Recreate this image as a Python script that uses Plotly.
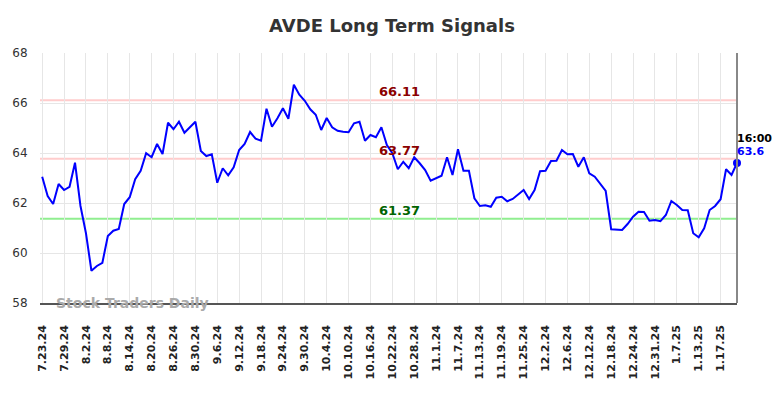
import pandas as pd
import plotly.graph_objects as go

# ---- data ----
holidays = ["2024-09-02", "2024-11-28", "2024-12-25", "2025-01-01", "2025-01-20"]
dates = [d.strftime("%-m.%-d.%y") for d in pd.bdate_range("2024-07-23", "2025-01-23")
         if d.strftime("%Y-%m-%d") not in holidays]

values = [
    63.05, 62.28, 61.96, 62.76, 62.52, 62.65, 63.61, 61.88, 60.79, 59.29,
    59.48, 59.61, 60.68, 60.89, 60.96, 61.96, 62.23, 62.95, 63.29, 63.99,
    63.83, 64.36, 63.96, 65.21, 64.95, 65.25, 64.81, 65.03, 65.25, 64.08,
    63.88, 63.95, 62.81, 63.39, 63.11, 63.43, 64.12, 64.36, 64.84, 64.57,
    64.49, 65.77, 65.05, 65.39, 65.79, 65.37, 66.73, 66.33, 66.09, 65.75,
    65.53, 64.92, 65.40, 65.03, 64.89, 64.85, 64.83, 65.19, 65.25, 64.49,
    64.72, 64.63, 65.03, 64.32, 63.99, 63.35, 63.65, 63.39, 63.83, 63.59,
    63.32, 62.89, 62.99, 63.09, 63.83, 63.12, 64.15, 63.29, 63.29, 62.19,
    61.88, 61.91, 61.85, 62.21, 62.25, 62.07, 62.16, 62.36, 62.52, 62.16,
    62.52, 63.27, 63.29, 63.68, 63.69, 64.12, 63.95, 63.96, 63.45, 63.83,
    63.19, 63.05, 62.76, 62.48, 60.95, 60.92, 60.92, 61.16, 61.45, 61.65,
    61.64, 61.29, 61.32, 61.27, 61.52, 62.08, 61.92, 61.72, 61.71, 60.79,
    60.63, 60.99, 61.72, 61.88, 62.15, 63.35, 63.12, 63.60,
]

tick_labels = [
    "7.23.24", "7.29.24", "8.2.24", "8.8.24", "8.14.24", "8.20.24", "8.26.24",
    "8.30.24", "9.6.24", "9.12.24", "9.18.24", "9.24.24", "9.30.24", "10.4.24",
    "10.10.24", "10.16.24", "10.22.24", "10.28.24", "11.1.24", "11.7.24",
    "11.13.24", "11.19.24", "11.25.24", "12.2.24", "12.6.24", "12.12.24",
    "12.18.24", "12.24.24", "12.31.24", "1.7.25", "1.13.25", "1.17.25",
]

y_ticks = [58, 60, 62, 64, 66, 68]

upper_level = 66.11
mid_level = 63.77
lower_level = 61.37
last_time = "16:00"

n = min(len(dates), len(values))
dates = dates[:n]
values = values[:n]
xs = list(range(n))
tick_pos = [dates.index(t) if t in dates else None for t in tick_labels]
tickvals = [p for p in tick_pos if p is not None]
ticktext = [t for t, p in zip(tick_labels, tick_pos) if p is not None]

fig = go.Figure()

for lvl, col in [(upper_level, "#ffcccc"), (mid_level, "#ffcccc"), (lower_level, "#90ee90")]:
    fig.add_shape(type="line", xref="paper", yref="y", x0=0, x1=1, y0=lvl, y1=lvl,
                  line=dict(color=col, width=2), layer="below")

fig.add_trace(go.Scatter(x=xs, y=values, mode="lines",
                         line=dict(color="#0000ff", width=2), hoverinfo="skip"))
fig.add_trace(go.Scatter(x=[xs[-1]], y=[values[-1]], mode="markers",
                         marker=dict(color="#0000ff", size=8), cliponaxis=False))

mid_x = 65.3
for lvl, col in [(upper_level, "#8b0000"), (mid_level, "#8b0000"), (lower_level, "#006400")]:
    fig.add_annotation(x=mid_x, y=lvl, text=f"{lvl:.2f}", showarrow=False,
                       yanchor="bottom", yshift=-1,
                       font=dict(family="DejaVu Sans", size=13, color=col, weight="bold"))

fig.add_annotation(x=xs[-1], y=values[-1], text=last_time, showarrow=False,
                   xanchor="left", yanchor="bottom", yshift=16, xshift=-2,
                   font=dict(family="DejaVu Sans", size=11, color="#000000", weight="bold"))
fig.add_annotation(x=xs[-1], y=values[-1], text=f"{values[-1]:.1f}", showarrow=False,
                   xanchor="left", yanchor="bottom", yshift=3, xshift=-2,
                   font=dict(family="DejaVu Sans", size=11, color="#0000ff", weight="bold"))

fig.add_annotation(xref="paper", yref="paper", x=0.02, y=0.0, text="Stock Traders Daily",
                   showarrow=False, xanchor="left", yanchor="middle",
                   font=dict(family="DejaVu Sans", size=14, color="#aaaaaa", weight="bold"))

# right border
fig.add_shape(type="line", xref="paper", yref="paper", x0=1, x1=1, y0=0, y1=1,
              line=dict(color="#888888", width=2))

fig.update_layout(
    width=768, height=382,
    margin=dict(l=32, r=39, t=45, b=87),
    paper_bgcolor="white", plot_bgcolor="white",
    showlegend=False,
    title=dict(text="AVDE Long Term Signals", x=0.5, xanchor="center",
               y=0.953, yanchor="middle",
               font=dict(family="DejaVu Sans", size=18, color="#333333", weight="bold")),
    xaxis=dict(range=[-0.4, n - 1], tickmode="array", tickvals=tickvals, ticktext=ticktext,
               tickangle=-90, showgrid=True, gridcolor="#e6e6e6", gridwidth=1,
               showline=True, linecolor="#555555", linewidth=1.5, zeroline=False,
               automargin=False, ticks="outside", ticklen=16, tickcolor="rgba(0,0,0,0)",
               tickfont=dict(family="DejaVu Sans", size=11, color="#222222", weight="bold")),
    yaxis=dict(range=[58, 68], tickvals=y_ticks, showgrid=True, gridcolor="#e6e6e6",
               gridwidth=1, zeroline=False, showline=False, automargin=False,
               ticks="outside", ticklen=9, tickcolor="rgba(0,0,0,0)",
               tickfont=dict(family="DejaVu Sans", size=12, color="#333333")),
)

fig.write_html("out.html")
